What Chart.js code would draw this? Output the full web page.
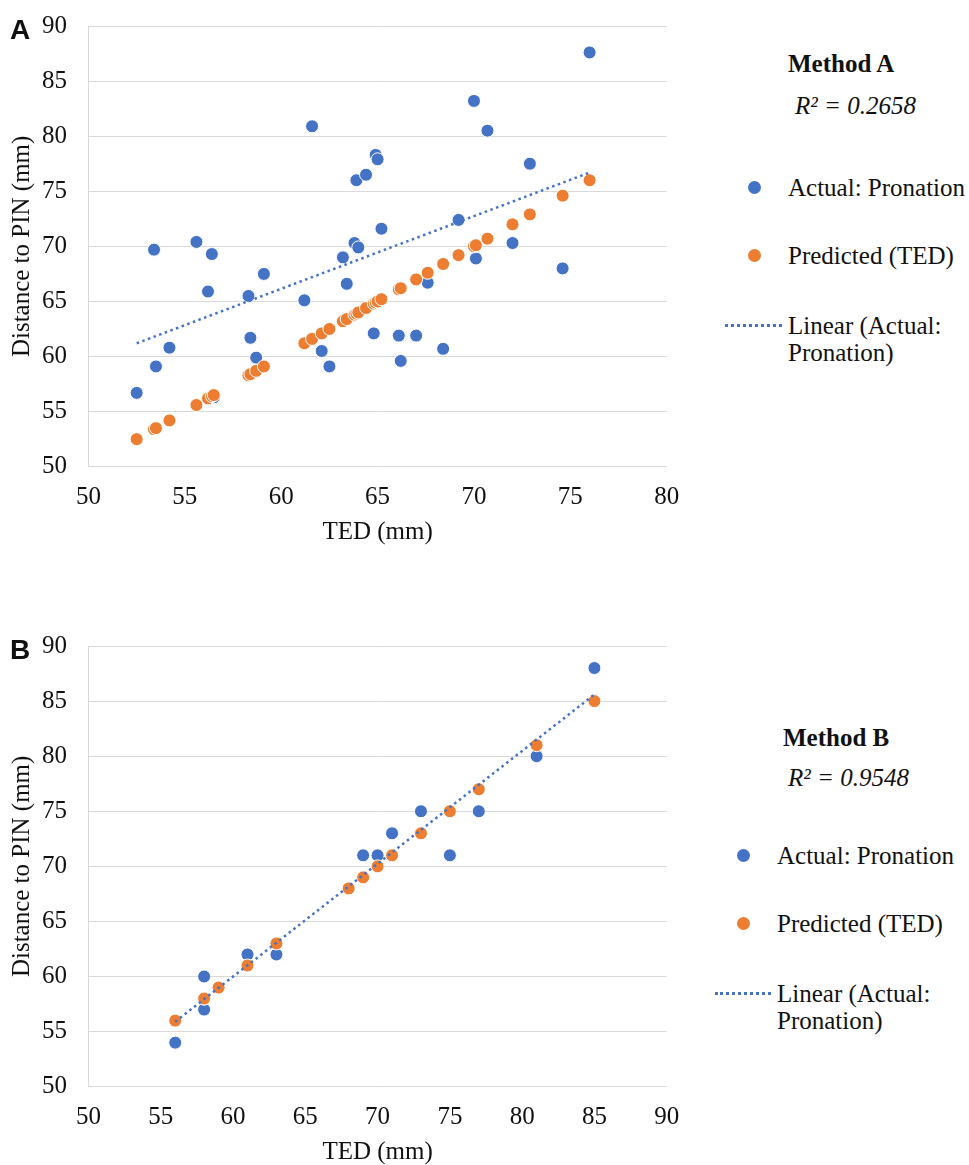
<!DOCTYPE html>
<html>
<head>
<meta charset="utf-8">
<script src="https://cdn.jsdelivr.net/npm/chart.js@4.4.1/dist/chart.umd.min.js"></script>
<style>
  body { margin: 0; background: #fff; }
  #page { position: relative; width: 969px; height: 1165px; overflow: hidden; font-family: "Liberation Serif", "Times New Roman", serif; color: #111; }
  canvas { position: absolute; left: 0; }
  .tag { position: absolute; left: 10px; font: bold 28px "Liberation Sans", Arial, sans-serif; line-height: 1; }
  .leg { position: absolute; font-size: 25px; line-height: 27px; white-space: nowrap; }
  .dot { position: absolute; width: 13px; height: 13px; border-radius: 50%; }
  .dash { position: absolute; height: 0; border-top: 3px dotted #4472C4; }
</style>
</head>
<body>
<div id="page">
  <canvas id="chartA" width="700" height="545" style="top:0"></canvas>
  <canvas id="chartB" width="700" height="545" style="top:620px"></canvas>
  <div class="tag" style="top:16px">A</div>
  <div class="tag" style="top:636px">B</div>
  <div id="legendA"></div>
  <div id="legendB"></div>
</div>
<script>
// Method A: TED (x), actual distance to PIN, predicted from TED
const tedA = [52.5, 53.4, 53.5, 54.2, 55.6, 56.2, 56.4, 56.5, 58.3, 58.4, 58.7, 59.1, 61.2, 61.6, 62.1, 62.5, 63.2, 63.4, 63.8, 63.9,
  64.0, 64.4, 64.8, 64.9, 65.0, 65.2, 66.1, 66.2, 67.0, 67.6, 68.4, 69.2, 70.0, 70.1, 70.7, 72.0, 72.9, 74.6, 76.0];
const actualA = [56.7, 69.7, 59.1, 60.8, 70.4, 65.9, 69.3, 56.3, 65.5, 61.7, 59.9, 67.5, 65.1, 80.9, 60.5, 59.1, 69.0, 66.6, 70.3, 76.0,
  69.9, 76.5, 62.1, 78.3, 77.9, 71.6, 61.9, 59.6, 61.9, 66.7, 60.7, 72.4, 83.2, 68.9, 80.5, 70.3, 77.5, 68.0, 87.6];
const predictedA = [52.5, 53.4, 53.5, 54.2, 55.6, 56.2, 56.4, 56.5, 58.3, 58.4, 58.7, 59.1, 61.2, 61.6, 62.1, 62.5, 63.2, 63.4, 63.8, 63.9,
  64.0, 64.4, 64.8, 64.9, 65.0, 65.2, 66.1, 66.2, 67.0, 67.6, 68.4, 69.2, 70.0, 70.1, 70.7, 72.0, 72.9, 74.6, 76.0];
const trendA = [{ x: 52.5, y: 61.2 }, { x: 76.0, y: 76.7 }];

// Method B
const tedB = [56, 58, 58, 59, 61, 63, 68, 69, 70, 71, 73, 75, 77, 81, 85];
const actualB = [54, 60, 57, 59, 62, 62, 68, 71, 71, 73, 75, 71, 75, 80, 88];
const predictedB = [56, 58, 58, 59, 61, 63, 68, 69, 70, 71, 73, 75, 77, 81, 85];
const trendB = [{ x: 56, y: 55.9 }, { x: 85, y: 85.6 }];

const xTicksA = [50, 55, 60, 65, 70, 75, 80];
const xTicksB = [50, 55, 60, 65, 70, 75, 80, 85, 90];
const yTicks = [50, 55, 60, 65, 70, 75, 80, 85, 90];

const BLUE = "#4472C4";
const ORANGE = "#ED7D31";
const SERIF = "'Liberation Serif', 'Times New Roman', serif";
const INK = "#111";

Chart.defaults.font.family = SERIF;
Chart.defaults.font.size = 25;
Chart.defaults.color = INK;

function drawPanel(id, ted, actual, predicted, trend, xTicks) {
  const points = arr => ted.map((x, i) => ({ x, y: arr[i] }));
  new Chart(document.getElementById(id), {
    type: "scatter",
    data: {
      datasets: [
        { label: "Actual: Pronation", data: points(actual), backgroundColor: BLUE, borderColor: "#fff", borderWidth: 1, pointRadius: 6.5, order: 2 },
        { label: "Predicted (TED)", data: points(predicted), backgroundColor: ORANGE, borderColor: "#fff", borderWidth: 1, pointRadius: 6.5, order: 1 },
        { label: "Linear (Actual: Pronation)", data: trend, showLine: true, borderColor: BLUE, borderWidth: 2.5, borderDash: [2.5, 3.5], pointRadius: 0, order: 0 },
      ],
    },
    options: {
      responsive: false, animation: false, devicePixelRatio: 1,
      layout: { padding: { top: 26, right: 33.3, left: 0, bottom: 0 } },
      plugins: { legend: { display: false }, tooltip: { enabled: false } },
      scales: {
        x: {
          type: "linear", min: xTicks[0], max: xTicks[xTicks.length - 1],
          afterBuildTicks: s => { s.ticks = xTicks.map(v => ({ value: v })); },
          ticks: { padding: 16, color: INK, font: { family: SERIF, size: 25 } },
          grid: { display: false, drawTicks: false }, border: { display: false },
          title: { display: true, text: "TED (mm)", color: INK, padding: 0, font: { family: SERIF, size: 25, lineHeight: 1 } },
          afterFit: s => { s.height = 78.3; },
        },
        y: {
          min: yTicks[0], max: yTicks[yTicks.length - 1],
          afterBuildTicks: s => { s.ticks = yTicks.map(v => ({ value: v })); },
          ticks: { padding: 21.5, color: INK, font: { family: SERIF, size: 25 } },
          grid: { color: "#d9d9d9", lineWidth: 1, drawTicks: false }, border: { display: true, color: "#d9d9d9" },
          title: { display: true, text: "Distance to PIN (mm)", color: INK, padding: { top: 9.5 }, font: { family: SERIF, size: 25, lineHeight: 1 } },
          afterFit: s => { s.width = 88.5; s.paddingTop = 0; s.paddingBottom = 0; },
        },
      },
    },
  });
}

function renderLegend(id, pos) {
  document.getElementById(id).innerHTML = `
    <div class="leg" style="left:${pos.titleX}px;top:${pos.titleY - 13}px;font-weight:bold">${pos.title}</div>
    <div class="leg" style="left:${pos.r2X}px;top:${pos.r2Y - 13}px;font-style:italic">R² = ${pos.r2}</div>
    <div class="dot" style="background:${BLUE};left:${pos.markX - 6.5}px;top:${pos.actualY - 6.5}px"></div>
    <div class="leg" style="left:${pos.textX}px;top:${pos.actualY - 13}px">Actual: Pronation</div>
    <div class="dot" style="background:${ORANGE};left:${pos.markX - 6.5}px;top:${pos.predY - 6.5}px"></div>
    <div class="leg" style="left:${pos.textX}px;top:${pos.predY - 13}px">Predicted (TED)</div>
    <div class="dash" style="left:${pos.dashX}px;width:${pos.textX - pos.dashX - 6}px;top:${pos.linY - 1.5}px"></div>
    <div class="leg" style="left:${pos.textX}px;top:${pos.linY - 13}px">Linear (Actual:<br>Pronation)</div>`;
}

drawPanel("chartA", tedA, actualA, predictedA, trendA, xTicksA);
drawPanel("chartB", tedB, actualB, predictedB, trendB, xTicksB);

renderLegend("legendA", { title: "Method A", titleX: 788, titleY: 63, r2: "0.2658", r2X: 795, r2Y: 105, markX: 754, textX: 788, actualY: 187, predY: 255, linY: 325, dashX: 725 });
renderLegend("legendB", { title: "Method B", titleX: 783, titleY: 737, r2: "0.9548", r2X: 788, r2Y: 777, markX: 743, textX: 777, actualY: 855, predY: 923, linY: 993, dashX: 715 });
</script>
</body>
</html>
